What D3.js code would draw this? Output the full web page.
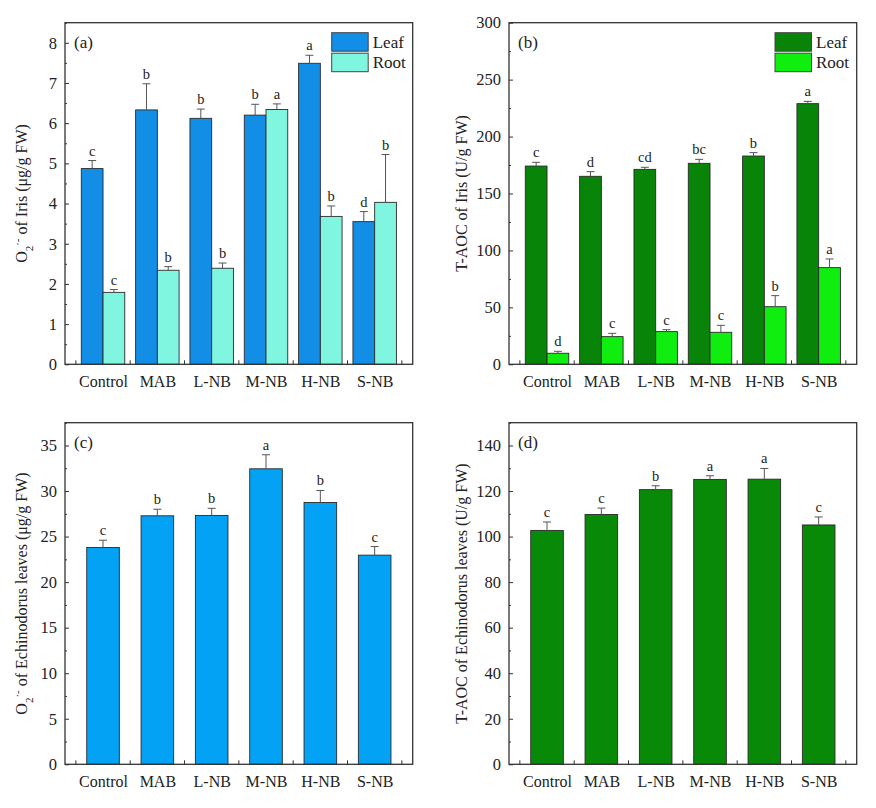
<!DOCTYPE html>
<html>
<head>
<meta charset="utf-8">
<script src="https://cdn.jsdelivr.net/npm/d3@7"></script>
<style>
  body { margin: 0; background: #fff; }
  svg text { font-family: "Liberation Serif", "Times New Roman", serif; fill: #222; }
</style>
</head>
<body>
<svg id="chart" width="876" height="808"></svg>
<script>
// ---- data ----
const categories = ["Control", "MAB", "L-NB", "M-NB", "H-NB", "S-NB"];

const irisO2Leaf = [4.87, 6.33, 6.12, 6.20, 7.49, 3.55];
const irisO2LeafErr = [0.20, 0.65, 0.23, 0.27, 0.20, 0.25];
const irisO2LeafSig = ["c", "b", "b", "b", "a", "d"];
const irisO2Root = [1.79, 2.34, 2.39, 6.34, 3.68, 4.03];
const irisO2RootErr = [0.07, 0.09, 0.13, 0.14, 0.26, 1.19];
const irisO2RootSig = ["c", "b", "b", "a", "b", "b"];

const irisAocLeaf = [174.1, 165.1, 171.2, 176.5, 182.9, 228.9];
const irisAocLeafErr = [3.3, 4.1, 1.8, 3.5, 3.0, 2.0];
const irisAocLeafSig = ["c", "d", "cd", "bc", "b", "a"];
const irisAocRoot = [9.7, 24.3, 28.7, 28.1, 50.6, 84.9];
const irisAocRootErr = [1.7, 2.9, 1.7, 6.1, 9.7, 7.6];
const irisAocRootSig = ["d", "c", "c", "c", "b", "a"];

const echO2 = [23.8, 27.28, 27.32, 32.44, 28.74, 22.96];
const echO2Err = [0.8, 0.72, 0.78, 1.54, 1.32, 0.94];
const echO2Sig = ["c", "b", "b", "a", "b", "c"];

const echAoc = [102.7, 109.7, 120.6, 125.1, 125.2, 105.1];
const echAocErr = [3.7, 2.8, 1.7, 1.6, 4.7, 3.5];
const echAocSig = ["c", "c", "b", "a", "a", "c"];

const svg = d3.select("#chart");

function drawPanel(o) {
    const g = svg.append("g").attr("transform", `translate(${o.x},${o.y})`);
    const w = o.w, h = o.h;
    const x = d3.scalePoint().domain(categories).range([0, w]).padding(0.7);
    const step = x.step();
    const y = d3.scaleLinear().domain(o.domain).range([h, 0]);
    const nS = o.series.length;
    const barW = step * (nS === 1 ? 0.6 : 0.4);

    // bars
    o.series.forEach((s, si) => {
        const off = (si - nS / 2) * barW;
        const sg = g.append("g");
        const rows = categories.map((c, i) => ({ c, v: s.values[i], e: s.err[i], t: s.sig[i] }));
        sg.selectAll("rect").data(rows).join("rect")
            .attr("x", d => x(d.c) + off)
            .attr("y", d => y(d.v))
            .attr("width", barW)
            .attr("height", d => h - y(d.v))
            .attr("fill", s.color)
            .attr("stroke", "#2a2a2a")
            .attr("stroke-width", 0.9);
        const cx = d => x(d.c) + off + barW / 2;
        sg.selectAll("line.eb").data(rows).join("line").attr("class", "eb")
            .attr("x1", cx).attr("x2", cx)
            .attr("y1", d => y(d.v)).attr("y2", d => y(d.v + d.e))
            .attr("stroke", "#555").attr("stroke-width", 1);
        sg.selectAll("line.cap").data(rows).join("line").attr("class", "cap")
            .attr("x1", d => cx(d) - 4).attr("x2", d => cx(d) + 4)
            .attr("y1", d => y(d.v + d.e)).attr("y2", d => y(d.v + d.e))
            .attr("stroke", "#555").attr("stroke-width", 1);
        sg.selectAll("text").data(rows).join("text")
            .attr("x", cx).attr("y", d => y(d.v + d.e) - 5)
            .attr("text-anchor", "middle")
            .style("font-size", "14.5px")
            .text(d => d.t);
    });

    // y axis: majors with labels, minors between, ticks inward
    const yAxis = d3.axisLeft(y).tickValues(d3.range(o.domain[0], o.domain[1] + 1e-9, o.major))
        .tickSize(-4).tickPadding(8).tickFormat(d3.format("d"));
    const ya = g.append("g").call(yAxis);
    const yMinor = d3.axisLeft(y).tickValues(d3.range(o.major / 2, o.domain[1] + 1e-9, o.major))
        .tickSize(-2).tickFormat("");
    const ym = g.append("g").call(yMinor);
    [ya, ym].forEach(a => {
        a.select(".domain").remove();
        a.selectAll("line").attr("stroke", "#333");
    });
    ya.selectAll("text").style("font-size", "16.5px").attr("fill", "#222")
        .style("font-family", "Liberation Serif, serif");

    // x axis: labels at group centres, ticks between groups
    const xa = g.append("g").attr("transform", `translate(0,${h})`)
        .call(d3.axisBottom(x).tickSize(0).tickPadding(11));
    xa.select(".domain").remove();
    xa.selectAll("text").style("font-size", "16px").attr("fill", "#222")
        .style("font-family", "Liberation Serif, serif");
    const bounds = d3.range(0, categories.length + 1).map(i => x(categories[0]) + (i - 0.5) * step);
    g.append("g").selectAll("line").data(bounds).join("line")
        .attr("x1", d => d).attr("x2", d => d)
        .attr("y1", h).attr("y2", h - 4)
        .attr("stroke", "#333");

    // frame
    g.append("rect").attr("width", w).attr("height", h)
        .attr("fill", "none").attr("stroke", "#333").attr("stroke-width", 1.3);

    // panel tag
    g.append("text").attr("x", 9).attr("y", 25).style("font-size", "17px").text(o.tag);

    // y title
    const t = g.append("text")
        .attr("transform", `translate(${o.titleX},${h / 2}) rotate(-90)`)
        .attr("text-anchor", "middle")
        .style("font-size", "16px");
    o.title.forEach(p => {
        const ts = t.append("tspan").text(p.t);
        if (p.sub) ts.attr("baseline-shift", "sub").style("font-size", "11px");
        if (p.sup) ts.attr("baseline-shift", "super").style("font-size", "11px");
    });

    // legend
    if (nS > 1) {
        const lg = g.append("g").attr("transform", `translate(${o.legendX},10)`);
        o.series.forEach((s, si) => {
            lg.append("rect").attr("x", 0).attr("y", si * 20.5)
                .attr("width", 36.5).attr("height", 18.5)
                .attr("fill", s.color).attr("stroke", "#444").attr("stroke-width", 1);
            lg.append("text").attr("x", 41).attr("y", si * 20.5 + 15)
                .style("font-size", "17px").text(s.name);
        });
    }
}

const W = 347.7, H = 341.6;

drawPanel({
    x: 65, y: 22.7, w: W, h: H, tag: "(a)", domain: [0, 8.5], major: 1, titleX: -38, legendX: 266.7,
    title: [{ t: "O" }, { t: "2", sub: true }, { t: "·-", sup: true }, { t: " of Iris (μg/g FW)" }],
    series: [
        { name: "Leaf", color: "#128ee6", values: irisO2Leaf, err: irisO2LeafErr, sig: irisO2LeafSig },
        { name: "Root", color: "#80f6e0", values: irisO2Root, err: irisO2RootErr, sig: irisO2RootSig }
    ]
});

drawPanel({
    x: 509, y: 22.7, w: W, h: H, tag: "(b)", domain: [0, 300], major: 50, titleX: -42, legendX: 266,
    title: [{ t: "T-AOC of Iris (U/g FW)" }],
    series: [
        { name: "Leaf", color: "#088408", values: irisAocLeaf, err: irisAocLeafErr, sig: irisAocLeafSig },
        { name: "Root", color: "#10ee10", values: irisAocRoot, err: irisAocRootErr, sig: irisAocRootSig }
    ]
});

drawPanel({
    x: 65, y: 422.7, w: W, h: H, tag: "(c)", domain: [0, 37.5], major: 5, titleX: -38,
    title: [{ t: "O" }, { t: "2", sub: true }, { t: "·-", sup: true }, { t: " of Echinodorus leaves (μg/g FW)" }],
    series: [
        { name: "Leaf", color: "#03a2f4", values: echO2, err: echO2Err, sig: echO2Sig }
    ]
});

drawPanel({
    x: 509, y: 422.7, w: W, h: H, tag: "(d)", domain: [0, 150], major: 20, titleX: -42,
    title: [{ t: "T-AOC of Echinodorus leaves (U/g FW)" }],
    series: [
        { name: "Leaf", color: "#088a08", values: echAoc, err: echAocErr, sig: echAocSig }
    ]
});
</script>
</body>
</html>
